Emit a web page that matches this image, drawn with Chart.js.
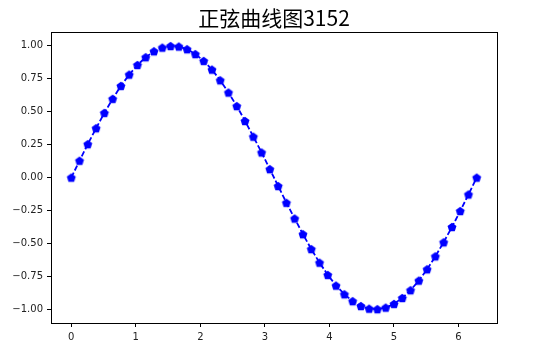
<!DOCTYPE html>
<html>
<head>
<meta charset="utf-8">
<script src="https://cdn.jsdelivr.net/npm/chart.js@4"></script>
<style>
  html, body { margin: 0; padding: 0; background: #fff; }
  #wrap { width: 542px; height: 356px; }
</style>
</head>
<body>
<div id="wrap"><canvas id="myChart"></canvas></div>
<script>
// x = linspace(0, 2*pi, 50), y = sin(x)
const xValues = [0.000, 0.128, 0.256, 0.385, 0.513, 0.641, 0.769, 0.898, 1.026, 1.154,
  1.282, 1.411, 1.539, 1.667, 1.795, 1.923, 2.052, 2.180, 2.308, 2.436,
  2.565, 2.693, 2.821, 2.949, 3.077, 3.206, 3.334, 3.462, 3.590, 3.719,
  3.847, 3.975, 4.103, 4.232, 4.360, 4.488, 4.616, 4.744, 4.873, 5.001,
  5.129, 5.257, 5.386, 5.514, 5.642, 5.770, 5.899, 6.027, 6.155, 6.283];
const yValues = [0.000, 0.128, 0.254, 0.375, 0.491, 0.598, 0.696, 0.782, 0.855, 0.914,
  0.959, 0.987, 0.999, 0.995, 0.975, 0.938, 0.886, 0.820, 0.739, 0.646,
  0.543, 0.430, 0.311, 0.191, 0.064, -0.064, -0.191, -0.311, -0.430, -0.543,
  -0.646, -0.739, -0.820, -0.886, -0.938, -0.975, -0.995, -0.999, -0.987, -0.959,
  -0.914, -0.855, -0.782, -0.696, -0.598, -0.491, -0.375, -0.254, -0.128, 0.000];

const xTicks = [0, 1, 2, 3, 4, 5, 6];
const xTickLabels = ['0', '1', '2', '3', '4', '5', '6'];
const yTicks = [-1, -0.75, -0.5, -0.25, 0, 0.25, 0.5, 0.75, 1];
const yTickLabels = ['\u22121.00', '\u22120.75', '\u22120.50', '\u22120.25', '0.00', '0.25', '0.50', '0.75', '1.00'];

const TITLE = '正弦曲线图3152';

// pentagon marker like matplotlib 'p'
function pentagon(r, color) {
  const c = document.createElement('canvas');
  const s = Math.ceil(r * 2 + 2);
  c.width = s; c.height = s;
  const g = c.getContext('2d');
  g.fillStyle = color;
  g.beginPath();
  for (let i = 0; i < 5; i++) {
    const a = -Math.PI / 2 + i * 2 * Math.PI / 5;
    const px = s / 2 + r * Math.cos(a);
    const py = s / 2 + 0.4 + r * Math.sin(a);
    if (i === 0) g.moveTo(px, py); else g.lineTo(px, py);
  }
  g.closePath();
  g.fill();
  return c;
}
const marker = pentagon(4.7, '#0000ff');

const frame = {
  id: 'frame',
  afterDatasetsDraw(chart) {
    const a = chart.chartArea;
    const g = chart.ctx;
    g.save();
    g.strokeStyle = '#000';
    g.lineWidth = 1;
    g.strokeRect(Math.round(a.left) + 0.5, Math.round(a.top) + 0.5,
      Math.round(a.right - a.left), Math.round(a.bottom - a.top));
    g.restore();
  }
};

const tickFont = { family: "'DejaVu Sans', sans-serif", size: 10 };

const ctx = document.getElementById('myChart');
const myChart = new Chart(ctx, {
  type: 'scatter',
  data: {
    datasets: [{
      data: xValues.map((x, i) => ({ x: x, y: yValues[i] })),
      showLine: true,
      borderColor: '#0000ff',
      borderWidth: 1.8,
      borderDash: [5.5, 2.4],
      pointStyle: marker,
      pointRadius: 5,
      pointHoverRadius: 5,
      backgroundColor: '#0000ff'
    }]
  },
  options: {
    responsive: true,
    maintainAspectRatio: false,
    animation: false,
    layout: { padding: { left: 0, right: 45, top: 0, bottom: 0 } },
    plugins: {
      legend: { display: false },
      tooltip: { enabled: false },
      title: {
        display: true,
        text: TITLE,
        fullSize: false,
        color: '#000',
        font: { family: "'Noto Sans CJK SC', sans-serif", size: 21, weight: 'normal', lineHeight: 1.2 },
        padding: { top: 5, bottom: 2 }
      }
    },
    scales: {
      x: {
        type: 'linear',
        min: -0.314,
        max: 6.597,
        afterBuildTicks: (s) => { s.ticks = xTicks.map(v => ({ value: v })); },
        afterFit: (s) => { s.height = 33; },
        grid: { drawOnChartArea: false, drawTicks: true, tickLength: 4, color: '#000' },
        border: { display: false },
        ticks: {
          color: '#222',
          font: tickFont,
          padding: 4,
          maxRotation: 0,
          callback: (v) => xTickLabels[xTicks.indexOf(v)]
        }
      },
      y: {
        type: 'linear',
        min: -1.104,
        max: 1.104,
        afterBuildTicks: (s) => { s.ticks = yTicks.map(v => ({ value: v })); },
        afterFit: (s) => { s.width = 51; },
        grid: { drawOnChartArea: false, drawTicks: true, tickLength: 4, color: '#000' },
        border: { display: false },
        ticks: {
          color: '#222',
          font: tickFont,
          padding: 4,
          callback: (v) => yTickLabels[yTicks.indexOf(v)]
        }
      }
    }
  },
  plugins: [frame]
});
</script>
</body>
</html>
